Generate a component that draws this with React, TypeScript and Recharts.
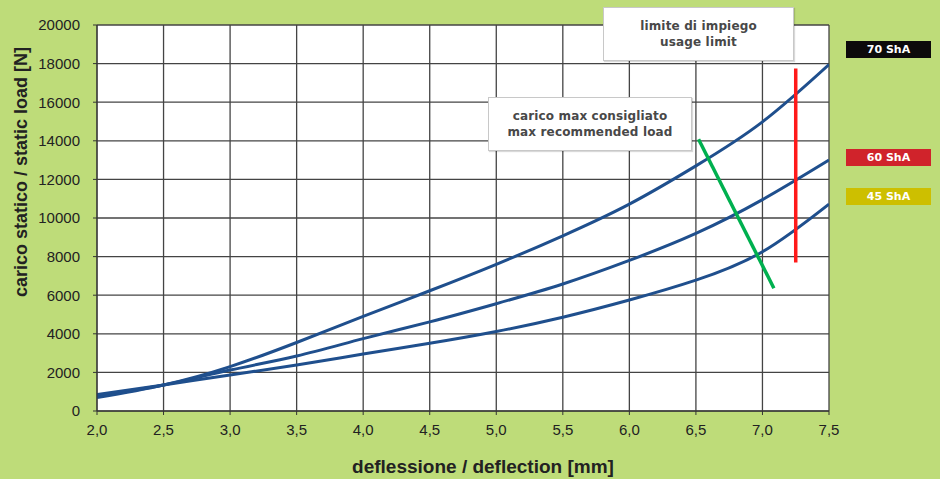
import React from 'react';
import { ComposedChart, Line, XAxis, YAxis, CartesianGrid, ReferenceLine } from 'recharts';

const deflection = [2.0, 2.5, 3.0, 3.5, 4.0, 4.5, 5.0, 5.5, 6.0, 6.5, 7.0, 7.5];
const load70 = [700, 1350, 2300, 3550, 4900, 6230, 7600, 9080, 10720, 12700, 14980, 17950];
const load60 = [780, 1350, 2120, 2850, 3750, 4620, 5560, 6580, 7800, 9200, 10950, 13000];
const load45 = [850, 1350, 1870, 2380, 2950, 3510, 4120, 4860, 5750, 6780, 8250, 10720];
const xTicks = [2.0, 2.5, 3.0, 3.5, 4.0, 4.5, 5.0, 5.5, 6.0, 6.5, 7.0, 7.5];
const yTicks = [0, 2000, 4000, 6000, 8000, 10000, 12000, 14000, 16000, 18000, 20000];
const recommendedLine = [{ x: 6.52, y: 14080 }, { x: 7.086, y: 6360 }];
const usageLine = [{ x: 7.25, y: 7700 }, { x: 7.25, y: 17750 }];
const legendItems = [
  { label: '70 ShA', color: '#0d0a0b', top: 41 },
  { label: '60 ShA', color: '#d0232b', top: 149 },
  { label: '45 ShA', color: '#cdbf00', top: 188 },
];

const data = deflection.map((x, i) => ({ x, s70: load70[i], s60: load60[i], s45: load45[i] }));

const FONT = 'Arial, "Liberation Sans", sans-serif';
const WIDE = '"DejaVu Sans", Verdana, sans-serif';
const BG = '#bedc79';
const CURVE = '#1f4f8d';

const boxStyle: React.CSSProperties = {
  position: 'absolute',
  background: '#fff',
  border: '1px solid #c8c8c8',
  boxShadow: '1px 1px 1px rgba(0,0,0,0.15)',
  fontFamily: WIDE,
  fontWeight: 'bold',
  fontSize: 12,
  letterSpacing: 0.15,
  color: '#484848',
  textAlign: 'center',
  display: 'flex',
  flexDirection: 'column',
  justifyContent: 'center',
  lineHeight: '16px',
  boxSizing: 'border-box',
};

export default function App() {
  return (
    <div style={{ position: 'absolute', left: 0, top: 0, width: 940, height: 479, background: BG, overflow: 'hidden' }}>
      <ComposedChart
        width={940}
        height={479}
        data={data}
        margin={{ top: 25, right: 111, bottom: 0, left: 0 }}
      >
        <CartesianGrid stroke="#444" strokeWidth={1.3} fill="#fff" fillOpacity={1} horizontalValues={yTicks} verticalValues={xTicks} />
        <XAxis
          dataKey="x"
          type="number"
          domain={[2, 7.5]}
          ticks={xTicks}
          height={68}
          tickSize={4}
          tickMargin={9}
          stroke="#333"
          tick={{ fill: '#222', fontSize: 15, fontFamily: FONT }}
          tickFormatter={(v: number) => v.toFixed(1).replace('.', ',')}
          allowDataOverflow
          label={({ viewBox }: any) => (
            <text x={viewBox.x + viewBox.width / 2 + 20} y={viewBox.y + 62} textAnchor="middle" fontFamily={FONT} fontWeight="bold" fontSize={19} fill="#222">
              deflessione / deflection [mm]
            </text>
          )}
        />
        <YAxis
          type="number"
          domain={[0, 20000]}
          ticks={yTicks}
          width={97}
          tickSize={4}
          tickMargin={13}
          stroke="#333"
          tick={{ fill: '#222', fontSize: 15, fontFamily: FONT }}
          allowDataOverflow
          label={({ viewBox }: any) => {
            const cx = viewBox.x + 21;
            const cy = viewBox.y + viewBox.height / 2 - 46;
            return (
              <text x={cx} y={cy} transform={`rotate(-90 ${cx} ${cy})`} textAnchor="middle" dominantBaseline="central" fontFamily={FONT} fontWeight="bold" fontSize={18} fill="#222">
                carico statico / static load [N]
              </text>
            );
          }}
        />
        <Line type="natural" dataKey="s70" stroke={CURVE} strokeWidth={3} dot={false} isAnimationActive={false} />
        <Line type="natural" dataKey="s60" stroke={CURVE} strokeWidth={3} dot={false} isAnimationActive={false} />
        <Line type="natural" dataKey="s45" stroke={CURVE} strokeWidth={3} dot={false} isAnimationActive={false} />
        <ReferenceLine segment={recommendedLine} stroke="#00b04f" strokeWidth={3.5} ifOverflow="visible" />
        <ReferenceLine segment={usageLine} stroke="#ff1a1a" strokeWidth={3.5} ifOverflow="visible" />
      </ComposedChart>

      <div style={{ ...boxStyle, left: 603, top: 7, width: 191, height: 54 }}>
        <div>limite di impiego</div>
        <div>usage limit</div>
      </div>
      <div style={{ ...boxStyle, left: 488, top: 97, width: 204, height: 54 }}>
        <div>carico max consigliato</div>
        <div>max recommended load</div>
      </div>

      {legendItems.map((it) => (
        <div
          key={it.label}
          style={{
            position: 'absolute',
            left: 846,
            top: it.top,
            width: 85,
            height: 17,
            background: it.color,
            color: '#fff',
            fontFamily: WIDE,
            fontWeight: 'bold',
            fontSize: 11,
            lineHeight: '17px',
            textAlign: 'center',
          }}
        >
          {it.label}
        </div>
      ))}
    </div>
  );
}
